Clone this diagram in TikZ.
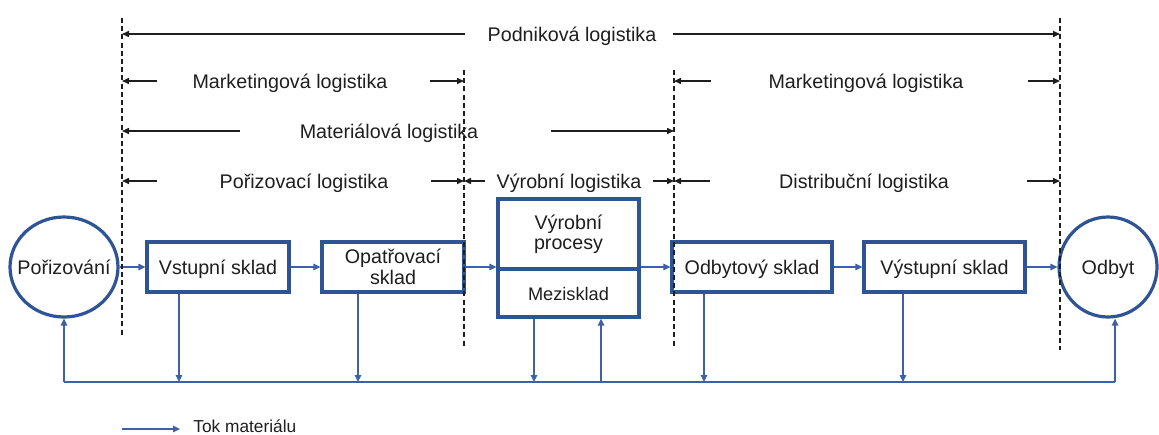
\documentclass[tikz,border=0pt]{standalone}
\usepackage{fontspec}
\setmainfont{Liberation Sans}
\usetikzlibrary{arrows.meta,shapes.geometric}
\definecolor{boxblue}{RGB}{47,84,150}
\definecolor{flowblue}{RGB}{62,96,168}
\definecolor{ink}{RGB}{30,30,30}
\tikzset{
  lab/.style={text=ink, font=\fontsize{9.85}{11}\selectfont, inner sep=0pt,
              text height=8.5pt, text depth=1.45pt},
  dimarrow/.style={draw=ink, line width=0.75pt, -{Triangle[length=3.5pt,width=3pt]}},
  divider/.style={draw=ink, line width=0.7pt, dash pattern=on 2.5pt off 1.6pt},
  stockframe/.style={draw=boxblue, line width=1.6pt, fill=white, text=ink,
                font=\fontsize{9.85}{10.2}\selectfont, align=center, inner sep=0pt},
  stock/.style={stockframe, text height=8.5pt, text depth=1.45pt},
  place/.style={ellipse, draw=boxblue, line width=1.6pt, fill=white, inner sep=0pt},
  flow/.style={draw=flowblue, line width=0.75pt, -{Triangle[length=3.5pt,width=3.2pt]}},
  pipe/.style={draw=flowblue, line width=0.75pt},
}
\begin{document}
\begin{tikzpicture}[x=0.5pt,y=-0.5pt]
\useasboundingbox (0,0) rectangle (1159,434);

% ---- material flow elements
\node[place, minimum width=54pt, minimum height=50pt,
      label={[lab]center:Pořizování}] (por) at (64,267) {};
\node[stock, minimum width=71pt, minimum height=25pt] (vst) at (218,267) {Vstupní sklad};
\node[stockframe, minimum width=71pt, minimum height=25pt] (opa) at (393,267) {Opatřovací\\sklad};
\node[stockframe, minimum width=70.5pt, minimum height=35pt] (vyr) at (568.5,234) {Výrobní\\procesy};
\node[stock, minimum width=70.5pt, minimum height=24pt,
      font=\fontsize{9.1}{10}\selectfont] (mez) at (568.5,293) {Mezisklad};
\node[stock, minimum width=80pt, minimum height=25pt] (odb) at (752,267) {Odbytový sklad};
\node[stock, minimum width=80.5pt, minimum height=25pt] (vys) at (944.5,267) {Výstupní sklad};
\node[place, minimum width=49pt, minimum height=50pt,
      label={[lab]center:Odbyt}] (odbyt) at (1108,267) {};

% ---- horizontal flow
\draw[flow] (por) -- (vst);
\draw[flow] (vst) -- (opa);
\draw[flow] (opa.east) -- (opa.east -| vyr.west);
\draw[flow] (odb.west -| vyr.east) -- (odb.west);
\draw[flow] (odb) -- (vys);
\draw[flow] (vys) -- (odbyt);

% ---- return bus
\coordinate (busL) at (64,382);
\coordinate (busR) at (1115,382);
\coordinate (b1) at (179,382);
\coordinate (b2) at (358,382);
\coordinate (b3) at (534,382);
\coordinate (b4) at (601,382);
\coordinate (b5) at (704,382);
\coordinate (b6) at (903,382);
\draw[pipe] (busL) -- (busR);
\draw[flow] (busL) -- (busL |- por.south);
\draw[flow] (busR) -- (busR |- odbyt.south);
\draw[flow] (b1 |- vst.south) -- (b1);
\draw[flow] (b2 |- opa.south) -- (b2);
\draw[flow] (b3 |- mez.south) -- (b3);
\draw[flow] (b4) -- (b4 |- mez.south);
\draw[flow] (b5 |- odb.south) -- (b5);
\draw[flow] (b6 |- vys.south) -- (b6);

% ---- boundary lines
\coordinate (v1t) at (122,18);   \coordinate (v1b) at (122,336);
\coordinate (v2t) at (464,70);   \coordinate (v2b) at (464,348);
\coordinate (v3t) at (674,70);   \coordinate (v3b) at (674,346);
\coordinate (v4t) at (1060,18);  \coordinate (v4b) at (1060,350);
\draw[divider] (v1t) -- (v1b);
\draw[divider] (v2t) -- (v2b);
\draw[divider] (v3t) -- (v3b);
\draw[divider] (v4t) -- (v4b);

% ---- logistics ranges
\node[lab] (podn) at (572,34) {Podniková logistika};
\node[lab] (mkt1) at (290,81) {Marketingová logistika};
\node[lab] (mkt2) at (866,81) {Marketingová logistika};
\node[lab] (mat)  at (389,131) {Materiálová logistika};
\node[lab] (pori) at (304,181) {Pořizovací logistika};
\node[lab] (vyrl) at (569,181) {Výrobní logistika};
\node[lab] (dist) at (864,181) {Distribuční logistika};

\coordinate (p1) at (465,34);   \coordinate (p2) at (673,34);
\coordinate (m1) at (157,81);   \coordinate (m2) at (430,81);
\coordinate (m3) at (711,81);   \coordinate (m4) at (1028,81);
\coordinate (t1) at (240,131);  \coordinate (t2) at (551,131);
\coordinate (r1) at (157,181);  \coordinate (r2) at (431,181);
\coordinate (r3) at (485,181);  \coordinate (r4) at (653,181);
\coordinate (r5) at (710,181);  \coordinate (r6) at (1027,181);

\draw[dimarrow] (p1) -- (v1t |- p1);
\draw[dimarrow] (p2) -- (v4t |- p2);
\draw[dimarrow] (m1) -- (v1t |- m1);
\draw[dimarrow] (m2) -- (v2t |- m2);
\draw[dimarrow] (m3) -- (v3t |- m3);
\draw[dimarrow] (m4) -- (v4t |- m4);
\draw[dimarrow] (t1) -- (v1t |- t1);
\draw[dimarrow] (t2) -- (v3t |- t2);
\draw[dimarrow] (r1) -- (v1t |- r1);
\draw[dimarrow] (r2) -- (v2t |- r2);
\draw[dimarrow] (r3) -- (v2t |- r3);
\draw[dimarrow] (r4) -- (v3t |- r4);
\draw[dimarrow] (r5) -- (v3t |- r5);
\draw[dimarrow] (r6) -- (v4t |- r6);

% ---- legend
\coordinate (k1) at (122,429);
\coordinate (k2) at (180,429);
\draw[flow] (k1) -- (k2);
\node[lab, anchor=west, font=\fontsize{8.65}{10}\selectfont] (legend) at (193,425) {Tok materiálu};
\end{tikzpicture}
\end{document}
